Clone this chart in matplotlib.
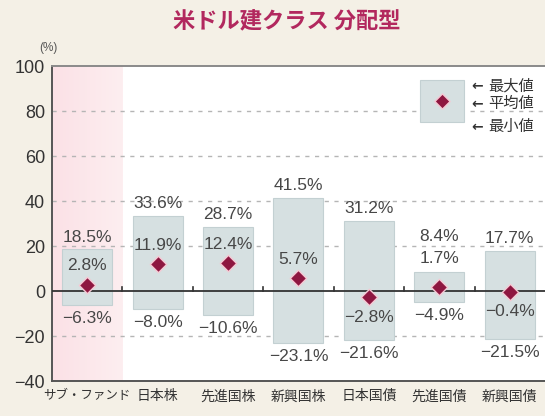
import matplotlib
matplotlib.use("Agg")
import matplotlib.pyplot as plt
import numpy as np
from matplotlib.colors import LinearSegmentedColormap

plt.rcParams['font.family'] = ['Liberation Sans', 'Noto Sans CJK JP', 'DejaVu Sans']

categories = ["サブ・ファンド", "日本株", "先進国株", "新興国株", "日本国債", "先進国債", "新興国債"]
max_vals = [18.5, 33.6, 28.7, 41.5, 31.2, 8.4, 17.7]
avg_vals = [2.8, 11.9, 12.4, 5.7, -2.8, 1.7, -0.4]
min_vals = [-6.3, -8.0, -10.6, -23.1, -21.6, -4.9, -21.5]
yticks = [-40, -20, 0, 20, 40, 60, 80, 100]
legend_labels = ["最大値", "平均値", "最小値"]

bg = "#f4f0e6"
bar_c = "#d6e0e1"
bar_edge = "#c3d0d2"
dia_c = "#8e1740"
txt_c = "#474747"
jp = ['Noto Sans CJK JP', 'DejaVu Sans']

def fmt(v):
    s = f"{abs(v):.1f}%"
    return ("\u2212" + s) if v < 0 else s

fig = plt.figure(figsize=(5.45, 4.16), dpi=100, facecolor=bg)
ax = fig.add_axes([0.0954, 0.084, 0.9046, 0.757])
ax.set_facecolor("white")
n = len(categories)
x = np.arange(n)
ax.set_xlim(-0.5, n - 0.5)
ax.set_ylim(-40, 100)

# pink gradient shading for sub-fund column
grad = np.linspace(0, 1, 50).reshape(1, -1)
cmap = LinearSegmentedColormap.from_list("pk", ["#fbe1e6", "#fdeef0"])
ax.imshow(grad, extent=(-0.5, 0.5, -40, 100), aspect="auto", cmap=cmap, zorder=0)

# grid
for g in [80, 60, 40, 20, -20]:
    ax.axhline(g, color="#b5b5b5", lw=1.0, ls=(0, (3, 4)), zorder=1)
ax.axhline(0, color="#333333", lw=1.3, zorder=4)

w = 0.71
ax.bar(x, np.array(max_vals) - np.array(min_vals), bottom=min_vals, width=w,
       color=bar_c, edgecolor=bar_edge, lw=0.8, zorder=2)
ax.scatter(x, avg_vals, marker="D", s=70, color=dia_c, edgecolors="#f6c9d4",
           linewidths=1.0, zorder=5)

fs = 12.5
for i in range(n):
    max_lbl = max_vals[i] + 5.5
    avg_lbl = avg_vals[i] + 8.5 if avg_vals[i] >= 0 else avg_vals[i] - 8.8
    if avg_vals[i] >= 0 and max_lbl - avg_lbl < 10:
        avg_lbl = max_vals[i] + 6
        max_lbl = avg_lbl + 10
    min_lbl = min_vals[i] - 6
    ax.text(x[i], max_lbl, fmt(max_vals[i]), ha="center", va="center",
            fontsize=fs, color=txt_c, zorder=6)
    ax.text(x[i], avg_lbl, fmt(avg_vals[i]), ha="center", va="center",
            fontsize=fs, color=txt_c, zorder=6)
    ax.text(x[i], min_lbl, fmt(min_vals[i]), ha="center", va="center",
            fontsize=fs, color=txt_c, zorder=6)

# small ticks on zero line between categories
for b in np.arange(0.5, n - 0.5, 1.0):
    ax.plot([b, b], [0, 1.6], color="#333333", lw=1.2, zorder=4)

# legend
ax.bar([5.04], [19], bottom=[75], width=0.62, color=bar_c, edgecolor=bar_edge,
       lw=0.8, zorder=2)
ax.scatter([5.04], [84.5], marker="D", s=60, color=dia_c, edgecolors="#f6c9d4",
           linewidths=1.0, zorder=5)
for lab, yy in zip(legend_labels, [91.2, 83.3, 73.0]):
    ax.text(5.46, yy, "\u2190", ha="left", va="center", fontsize=10,
            color="#333333", zorder=6, family=['DejaVu Sans'], fontweight="bold")
    ax.text(5.69, yy, lab, ha="left", va="center", fontsize=11,
            color="#333333", zorder=6, family=jp)

ax.set_yticks(yticks)
ax.set_yticklabels([str(t) if t >= 0 else "\u2212" + str(-t) for t in yticks],
                   fontsize=13, color="#333333")
ax.tick_params(axis="y", length=0, pad=5)
ax.set_xticks(x)
ax.set_xticklabels(categories, color="#333333")
for i, t in enumerate(ax.get_xticklabels()):
    t.set_family(jp)
    t.set_fontsize(9 if i == 0 else 10)
ax.tick_params(axis="x", length=0, pad=6)

for s in ["left", "bottom"]:
    ax.spines[s].set_color("#555555")
    ax.spines[s].set_linewidth(1.4)
ax.spines["top"].set_color("#8a8a8a")
ax.spines["top"].set_linewidth(1.4)
ax.spines["right"].set_visible(False)

fig.text(0.088, 0.885, "(%)", fontsize=8.5, color="#555555", ha="center", va="center")
fig.text(0.527, 0.947, "米ドル建クラス 分配型", fontsize=16, fontweight="bold",
         color="#b2285e", ha="center", va="center", family=jp)

fig.savefig("out.png", dpi=100, facecolor=bg)
